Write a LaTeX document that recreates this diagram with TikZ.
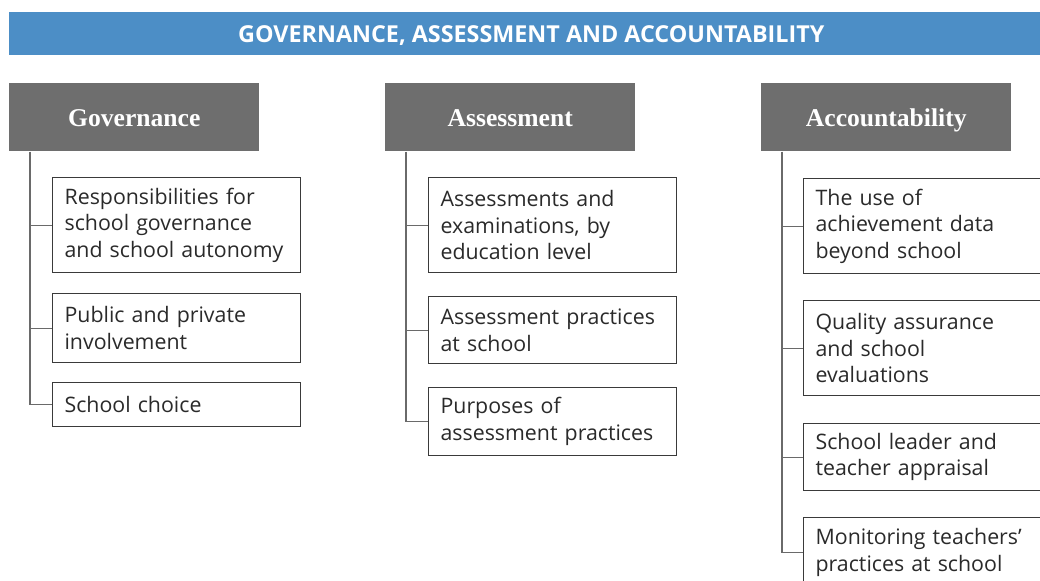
\documentclass[tikz,border=0pt]{standalone}
\usepackage{fontspec}
\setmainfont{Open Sans}
\newfontfamily\headfont{Liberation Serif}
\definecolor{barblue}{HTML}{4C8EC6}
\definecolor{headgray}{HTML}{6E6E6E}
\definecolor{boxline}{HTML}{3A3A3A}
\definecolor{trunkgray}{HTML}{6A6A6A}
\definecolor{txtgray}{HTML}{2A2A2A}
\tikzset{
  titlebar/.style={fill=barblue, text=white, anchor=north west, minimum width=783pt, minimum height=32.25pt, inner sep=0pt, text height=12.7pt, text depth=0pt, font=\bfseries\fontsize{17.5}{20}\selectfont},
  headbox/.style={fill=headgray, text=white, anchor=north west, minimum width=187.5pt, minimum height=51pt, inner sep=0pt, text height=13.5pt, text depth=0pt, font=\headfont\bfseries\fontsize{19.2}{22}\selectfont},
  itembox/.style={draw=boxline, line width=0.9pt, fill=white, anchor=north west, text width=168pt, inner xsep=9pt, inner ysep=0pt, align=left, text=txtgray, font=\fontsize{16}{19.9}\selectfont},
  trunk/.style={draw=trunkgray, line width=0.8pt}
}
\begin{document}
\begin{tikzpicture}[x=0.75pt,y=-0.75pt]
\useasboundingbox (0,0) rectangle (1040,581);
\clip (0,0) rectangle (1040,581);
\node[titlebar] (title) at (9,12) {GOVERNANCE, ASSESSMENT AND ACCOUNTABILITY};
\node[headbox] (gov) at (9,83) {Governance};
\node[headbox] (ass) at (385,83) {Assessment};
\node[headbox] (acc) at (761,83) {Accountability};
% Governance items
\node[itembox, minimum height=71.25pt] (g1) at (52,177) {Responsibilities for\\school governance\\and school autonomy};
\node[itembox, minimum height=51.75pt] (g2) at (52,293) {Public and private\\involvement};
\node[itembox, minimum height=33pt] (g3) at (52,382) {School choice};
% Assessment items
\node[itembox, minimum height=71.25pt] (a1) at (428,177) {Assessments and\\examinations, by\\education level};
\node[itembox, minimum height=50.25pt] (a2) at (428,296) {Assessment practices\\at school};
\node[itembox, minimum height=51pt] (a3) at (428,387) {Purposes of\\assessment practices};
% Accountability items
\node[itembox, minimum height=71.25pt] (c1) at (803,178) {The use of\\achievement data\\beyond school};
\node[itembox, minimum height=71.25pt] (c2) at (803,300) {Quality assurance\\and school\\evaluations};
\node[itembox, minimum height=50.25pt] (c3) at (803,423) {School leader and\\teacher appraisal};
\node[itembox, minimum height=52.5pt] (c4) at (803,517) {Monitoring teachers’\\practices at school};
% trunks
\coordinate (gt) at ([xshift=15.75pt]gov.south west);
\coordinate (at) at ([xshift=15.75pt]ass.south west);
\coordinate (ct) at ([xshift=15.75pt]acc.south west);
\draw[trunk] (gt) |- (g3.west);
\draw[trunk] (g1.west) -- (g1.west -| gt);
\draw[trunk] (g2.west) -- (g2.west -| gt);
\draw[trunk] (at) |- (a3.west);
\draw[trunk] (a1.west) -- (a1.west -| at);
\draw[trunk] (a2.west) -- (a2.west -| at);
\draw[trunk] (ct) |- (c4.west);
\draw[trunk] (c1.west) -- (c1.west -| ct);
\draw[trunk] (c2.west) -- (c2.west -| ct);
\draw[trunk] (c3.west) -- (c3.west -| ct);
\end{tikzpicture}
\end{document}
